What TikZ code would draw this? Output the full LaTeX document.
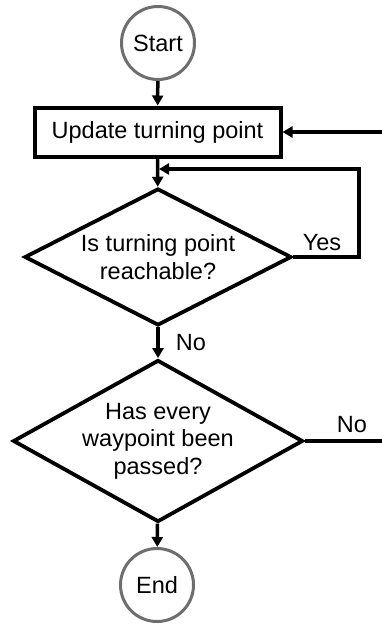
\documentclass[tikz,border=0pt]{standalone}
\usepackage{fontspec}
\setmainfont{Liberation Sans}
\usetikzlibrary{shapes.geometric,arrows.meta}
\definecolor{ringgray}{HTML}{6E6E6E}
\begin{document}
\begin{tikzpicture}[x=1pt,y=-1pt,
  every node/.style={font=\fontsize{23.5pt}{27.5pt}\selectfont},
  term/.style={circle,draw=ringgray,line width=3pt,minimum size=73pt,inner sep=0pt},
  procbox/.style={rectangle,draw=black,line width=4pt,minimum width=246pt,minimum height=49pt,inner sep=0pt},
  decide/.style={diamond,draw=black,line width=3.8pt,inner sep=0pt,align=center},
  flow/.style={line width=3.5pt,-{Triangle[length=10pt,width=11pt]}},
  plain/.style={line width=3.5pt},
  lbl/.style={inner sep=0pt}]
\useasboundingbox (0,0) rectangle (382,624);
\node[term] (start) at (158,43) {Start};
\node[procbox] (upd) at (157.5,132) {Update turning point};
\node[decide,aspect=1.93,minimum width=267pt,minimum height=137pt] (d1) at (158,257) {Is turning point\\reachable?};
\node[decide,aspect=1.776,minimum width=290pt,minimum height=162pt] (d2) at (158,441) {Has every\\waypoint been\\passed?};
\node[term] (end) at (157,585) {End};
\coordinate (join) at (159,169);
\coordinate (loopr) at (359,169);
\coordinate (in1) at (383,132);
\coordinate (out1) at (383,441);
\draw[flow] (start) -- (upd);
\draw[flow] (upd) -- (d1);
\draw[flow] (in1) -- (upd.east);
\draw[flow] (d1.east) -| (loopr) -- (join);
\draw[flow] (d1) -- (d2);
\draw[plain] (d2.east) -- (out1);
\draw[flow] (d2) -- (end);
\node[lbl] (yes) at (322,243) {Yes};
\node[lbl] (no1) at (191,343) {No};
\node[lbl] (no2) at (352,425) {No};
\end{tikzpicture}
\end{document}
